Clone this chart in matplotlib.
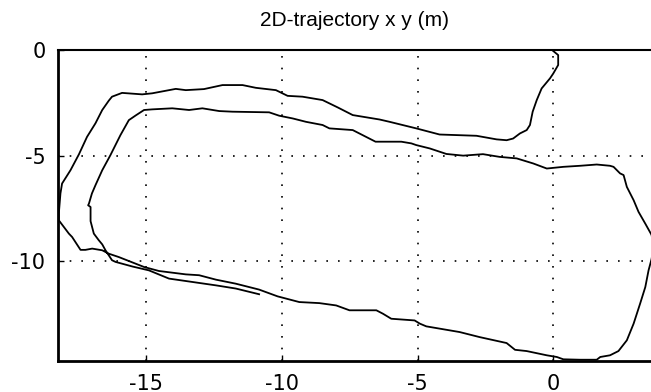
import numpy as np
import matplotlib
matplotlib.use("Agg")
import matplotlib.pyplot as plt

plt.rcParams['font.family'] = ['Liberation Sans', 'DejaVu Sans']
plt.rcParams['axes.unicode_minus'] = False

# trajectory, starting at the origin
traj_x = [0.00, 0.18, 0.18, 0.00, -0.12, -0.43, -0.61, -0.76, -0.86, -0.98,
          -1.23, -1.48, -1.72, -2.09, -2.83, -4.19, -5.05, -6.03, -6.40, -7.39,
          -7.94, -8.50, -9.24, -9.79, -10.22, -10.96, -11.45, -12.19, -12.87, -13.54,
          -13.91, -14.16, -14.78, -15.15, -15.89, -16.26, -16.38, -16.62, -16.87, -17.18,
          -17.48, -17.79, -18.10, -18.16, -18.22, -18.22, -18.04, -17.85, -17.73, -17.42,
          -17.24, -16.99, -16.62, -16.38, -16.01, -15.08, -14.53, -13.54, -13.05, -12.43,
          -11.70, -10.84, -10.16, -9.36, -8.62, -8.00, -7.51, -7.14, -6.52, -6.28,
          -5.97, -5.11, -4.92, -4.68, -3.45, -2.71, -1.72, -1.41, -0.98, -0.24,
          0.13, 0.37, 0.99, 1.60, 1.73, 2.09, 2.40, 2.71, 2.96, 3.20,
          3.39, 3.51, 3.62, 3.70, 3.62, 3.39, 3.14, 2.96, 2.71, 2.59,
          2.46, 2.22, 2.09, 1.60, 0.99, 0.37, -0.24, -0.74, -1.35, -1.97,
          -2.59, -3.32, -3.94, -4.55, -5.05, -5.23, -5.60, -6.55, -7.39, -8.25,
          -8.50, -9.11, -9.60, -10.10, -10.47, -11.82, -12.31, -12.93, -13.42, -14.04,
          -14.78, -15.08, -15.39, -15.64, -15.95, -16.32, -16.62, -16.87, -17.00, -17.11,
          -17.14, -17.05, -17.05, -16.93, -16.75, -16.62, -16.50, -16.26, -16.13, -15.50,
          -14.90, -14.16, -13.30, -12.43, -11.70, -10.84]
traj_y = [-0.05, -0.24, -0.71, -1.11, -1.34, -1.82, -2.37, -2.92, -3.55, -3.79,
          -3.95, -4.19, -4.27, -4.23, -4.06, -4.00, -3.71, -3.40, -3.29, -3.08,
          -2.72, -2.37, -2.21, -2.17, -1.90, -1.79, -1.66, -1.66, -1.85, -1.90,
          -1.84, -1.90, -2.05, -2.10, -2.03, -2.21, -2.40, -2.84, -3.47, -4.11,
          -4.94, -5.69, -6.32, -6.79, -7.74, -8.06, -8.37, -8.69, -8.85, -9.46,
          -9.46, -9.40, -9.48, -9.64, -9.80, -10.27, -10.46, -10.62, -10.66, -10.87,
          -11.06, -11.34, -11.66, -11.93, -11.98, -12.09, -12.32, -12.32, -12.32, -12.48,
          -12.72, -12.80, -12.95, -13.08, -13.35, -13.59, -13.87, -14.19, -14.25, -14.45,
          -14.53, -14.64, -14.66, -14.66, -14.53, -14.45, -14.25, -13.74, -12.95, -12.00,
          -11.22, -10.43, -9.90, -9.30, -8.75, -8.22, -7.66, -7.11, -6.48, -5.92,
          -5.84, -5.53, -5.48, -5.42, -5.48, -5.53, -5.61, -5.37, -5.13, -5.06,
          -4.93, -5.00, -4.92, -4.66, -4.50, -4.42, -4.34, -4.34, -3.79, -3.71,
          -3.55, -3.40, -3.24, -3.11, -2.95, -2.92, -2.89, -2.76, -2.84, -2.76,
          -2.81, -2.84, -3.10, -3.32, -4.03, -4.98, -5.69, -6.40, -6.79, -7.27,
          -7.35, -7.43, -8.10, -8.69, -9.00, -9.20, -9.48, -9.95, -10.03, -10.25,
          -10.43, -10.82, -10.98, -11.14, -11.29, -11.56]

x_ticks = [-15, -10, -5, 0]
y_ticks = [-10, -5, 0]

fig = plt.figure(figsize=(6.51, 3.92), dpi=100)
ax = fig.add_axes([58/651, 1 - 361/392, 1 - 58/651, (361 - 50)/392])

ax.plot(traj_x, traj_y, color='black', lw=1.3)

ax.set_xlim(-18.25, 3.6)
ax.set_ylim(-14.72, 0)
ax.set_xticks(x_ticks)
ax.set_yticks(y_ticks)
ax.tick_params(direction='in', length=4, width=1, top=False, right=False)
ax.tick_params(axis='x', pad=9)
ax.tick_params(axis='y', pad=9)
for lab in ax.get_xticklabels() + ax.get_yticklabels():
    lab.set_family('DejaVu Sans')
    lab.set_fontsize(15)
ax.grid(True, color='black', linestyle=(0, (1, 6)), linewidth=1.2)

ax.spines['left'].set_linewidth(2)
ax.spines['bottom'].set_linewidth(2)
ax.spines['top'].set_linewidth(1.5)
ax.spines['right'].set_visible(False)

fig.text(355/651, 1 - 20/392, '2D-trajectory x y (m)', ha='center', va='center',
         fontsize=15)

fig.savefig('out.png', dpi=100)
